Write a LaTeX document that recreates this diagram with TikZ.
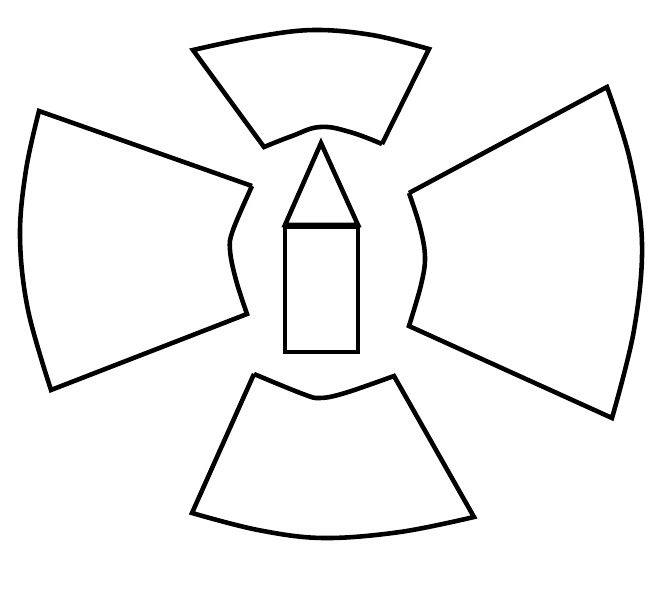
\documentclass[tikz,border=0pt]{standalone}
\begin{document}
\begin{tikzpicture}[x=0.02cm, y=-0.02cm]
            \tikzset{piece/.style={black, line width=2.6pt, line join=miter}}
            \useasboundingbox (0,0) rectangle (654,600);

            \draw[piece] (382,144) -- (429,49)
                -- plot[smooth, tension=0.6] coordinates {(429,49) (372,35) (313,30) (255,37) (193,50)}
                -- (264,147)
                -- plot[smooth, tension=0.7] coordinates {(264,147) (292,136) (320,127) (350,132) (382,144)};

            \draw[piece] (252,186) -- (39,111)
                -- plot[smooth, tension=0.6] coordinates {(39,111) (26,170) (20,237) (28,310) (51,390)}
                -- (247,314)
                -- plot[smooth, tension=0.6] coordinates {(247,314) (236,280) (230,250) (233,230) (252,186)};

            \draw[piece] (409,193) -- (607,87)
                -- plot[smooth, tension=0.6] coordinates {(607,87) (630,160) (642,243) (634,330) (612,418)}
                -- (409,326)
                -- plot[smooth, tension=0.6] coordinates {(409,326) (421,285) (425,257) (420,227) (409,193)};

            \draw[piece] (254,374) -- (192,513)
                -- plot[smooth, tension=0.6] coordinates {(192,513) (258,530) (323,538) (400,532) (474,517)}
                -- (394,376)
                -- plot[smooth, tension=0.6] coordinates {(394,376) (345,393) (320,398) (303,394) (254,374)};

            \draw[piece] (285,227) rectangle (358,352);
            \draw[piece] (285,225) -- (321,143) -- (358,225) -- cycle;
        \end{tikzpicture}
\end{document}
